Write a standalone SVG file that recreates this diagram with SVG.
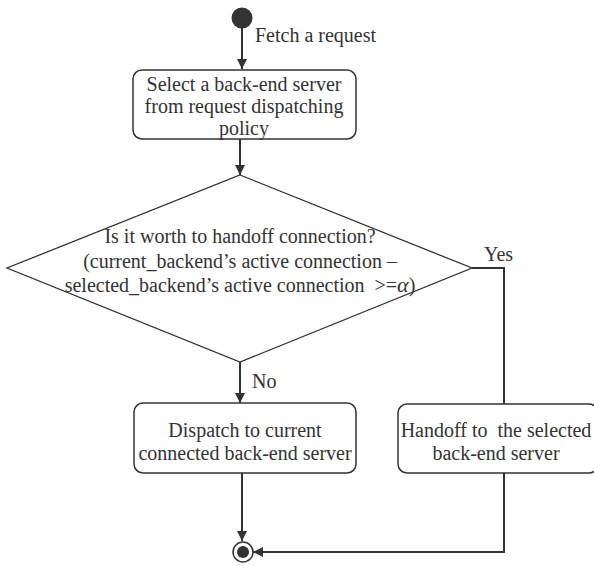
<svg xmlns="http://www.w3.org/2000/svg" width="594" height="566" viewBox="0 0 594 566">
  <defs>
    <marker id="arrow" viewBox="0 0 10 10" refX="10" refY="5" markerWidth="10" markerHeight="10" markerUnits="userSpaceOnUse" orient="auto">
      <path d="M0,0 L10,5 L0,10 Z" fill="#333"/>
    </marker>
  </defs>
  <style>
    text { font-family: "Liberation Serif", "Times New Roman", serif; font-size: 20px; fill: #333; }
    .mid { text-anchor: middle; }
    .box { fill: #fff; stroke: #333; stroke-width: 1.5; }
    .dec { fill: #fff; stroke: #333; stroke-width: 1.3; }
    .edge { fill: none; stroke: #333; stroke-width: 2; }
    .edge-arrow { fill: none; stroke: #333; stroke-width: 2; marker-end: url(#arrow); }
  </style>
  <rect width="594" height="566" fill="#fff"/>

  <g id="connectors">
    <line class="edge-arrow" x1="242" y1="28" x2="242" y2="69"/>
    <text x="255" y="42">Fetch a request</text>
    <line class="edge-arrow" x1="240" y1="139" x2="240" y2="175"/>
    <line class="edge-arrow" x1="240" y1="362" x2="240" y2="403"/>
    <text x="252" y="388">No</text>
    <polyline class="edge" points="472,268 504,268 504,404"/>
    <text x="484" y="261">Yes</text>
    <line class="edge-arrow" x1="242" y1="473" x2="242" y2="541"/>
    <polyline class="edge-arrow" points="504,473 504,552 253,552"/>
  </g>

  <g id="start">
    <circle cx="242" cy="18" r="10.5" fill="#333"/>
  </g>

  <g id="select-server">
    <rect class="box" x="133" y="70" width="223" height="69" rx="9"/>
    <text class="mid" x="244" y="91">Select a back-end server</text>
    <text class="mid" x="244" y="113">from request dispatching</text>
    <text class="mid" x="244" y="135">policy</text>
  </g>

  <g id="handoff-decision">
    <polygon class="dec" points="240,175 472,268 240,362 7,268"/>
    <text class="mid" x="240" y="243">Is it worth to handoff connection?</text>
    <text class="mid" x="240" y="268">(current_backend’s active connection –</text>
    <text class="mid" x="240" y="292">selected_backend’s active connection &#160;&gt;=<tspan font-style="italic" font-size="22">α</tspan>)</text>
  </g>

  <g id="dispatch-current">
    <rect class="box" x="134" y="403" width="222" height="70" rx="9"/>
    <text class="mid" x="245" y="437">Dispatch to current</text>
    <text class="mid" x="245" y="460">connected back-end server</text>
  </g>

  <g id="handoff-selected">
    <rect class="box" x="398" y="404" width="200" height="69" rx="9"/>
    <text class="mid" x="496" y="437">Handoff to &#160;the selected</text>
    <text class="mid" x="496" y="460">back-end server</text>
  </g>

  <g id="end">
    <circle cx="243" cy="552" r="10" fill="#fff" stroke="#333" stroke-width="1.5"/>
    <circle cx="243" cy="552" r="6" fill="#333"/>
  </g>
</svg>
